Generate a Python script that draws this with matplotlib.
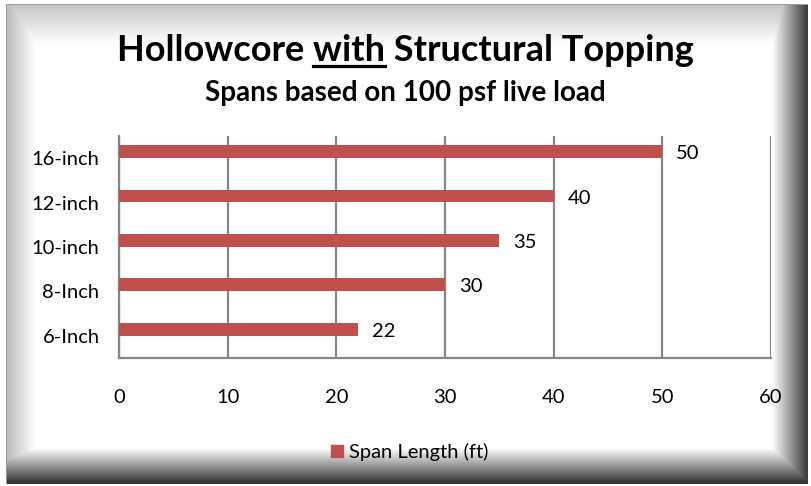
import numpy as np
import matplotlib.pyplot as plt
from matplotlib.lines import Line2D

categories = ["6-Inch", "8-Inch", "10-inch", "12-inch", "16-inch"]
span_ft = [22, 30, 35, 40, 50]
series_name = "Span Length (ft)"
x_ticks = [0, 10, 20, 30, 40, 50, 60]

BAR = "#C0504D"
GRID = "#868686"
FONT = "Lato"
FS = 14.5

W, H = 811, 486
fig = plt.figure(figsize=(W / 100, H / 100), dpi=100)

# bevelled frame background
bg = fig.add_axes([0, 0, 1, 1])
yy, xx = np.mgrid[0:H, 0:W].astype(float)
left = np.clip(0.74 + 0.26 * (xx - 7) / 28, 0, 1)
top = np.clip(0.78 + 0.22 * (yy - 6) / 38, 0, 1)
right = np.clip(1 - 0.75 * (xx - 772) / 34, 0.25, 1)
bottom = np.clip(1 - 0.8 * (yy - 448) / 34, 0.2, 1)
img = np.minimum.reduce([left, top, right, bottom])
inside = (xx >= 6) & (xx <= 807) & (yy >= 5) & (yy <= 483)
img[~inside] = 1.0
edge = inside & ((xx < 7) | (yy < 6))
img[edge] = 0.6
bg.imshow(np.dstack([img] * 3), extent=[0, W, H, 0], aspect="auto", interpolation="bilinear")
bg.set_xlim(0, W)
bg.set_ylim(H, 0)
bg.axis("off")

ax = fig.add_axes([119 / W, 1 - 358 / H, (771 - 119) / W, (358 - 136) / H])
ax.patch.set_alpha(0)
y = np.arange(len(categories))
bar_y = y + 0.15  # bars sit a little above the category centre
ax.barh(bar_y, span_ft, height=0.29, color=BAR, zorder=3)
for yi, v in zip(bar_y, span_ft):
    ax.annotate(str(v), (v, yi), xytext=(10, -1.5), textcoords="offset points",
                va="center", ha="left", fontsize=FS, family=FONT)

ax.set_xlim(0, 60)
ax.set_ylim(-0.5, len(categories) - 0.5)
ax.set_xticks(x_ticks)
ax.set_yticks(y)
ax.set_yticklabels(categories)
ax.tick_params(axis="x", length=0, pad=22, labelsize=FS)
ax.tick_params(axis="y", length=0, pad=14, labelsize=FS)
for lab in ax.get_xticklabels() + ax.get_yticklabels():
    lab.set_family(FONT)
ax.grid(axis="x", color=GRID, linewidth=1.6, zorder=1)
for s in ["top", "right"]:
    ax.spines[s].set_visible(False)
for s in ["left", "bottom"]:
    ax.spines[s].set_color(GRID)
    ax.spines[s].set_linewidth(1.6)

# title with underlined "with"
r = fig.canvas.get_renderer()
parts = ["Hollowcore ", "with", " Structural Topping"]
tsize = 26
full = fig.text(0.5, 1 - 61 / H, "".join(parts), ha="center", va="baseline",
                fontsize=tsize, fontweight="bold", family=FONT)
bb = full.get_window_extent(r)
tmp = fig.text(0, 0, parts[0], fontsize=tsize, fontweight="bold", family=FONT)
w0 = tmp.get_window_extent(r).width
tmp.set_text(parts[0] + parts[1])
w1 = tmp.get_window_extent(r).width
tmp.remove()
base_y = 1 - 66.5 / H
fig.add_artist(Line2D([(bb.x0 + w0) / W, (bb.x0 + w1) / W], [base_y, base_y],
                      transform=fig.transFigure, color="black", linewidth=2.3))

fig.text(0.5, 1 - 101 / H, "Spans based on 100 psf live load", ha="center",
         va="baseline", fontsize=20, fontweight="bold", family=FONT)

# legend
fig.legend(handles=[plt.Rectangle((0, 0), 1, 1, color=BAR)], labels=[series_name],
           loc="center", bbox_to_anchor=(410 / W, 1 - 452 / H), frameon=False,
           prop={"family": FONT, "size": FS}, handlelength=0.6, handleheight=0.6,
           handletextpad=0.3)

fig.savefig("out.png", dpi=100)
